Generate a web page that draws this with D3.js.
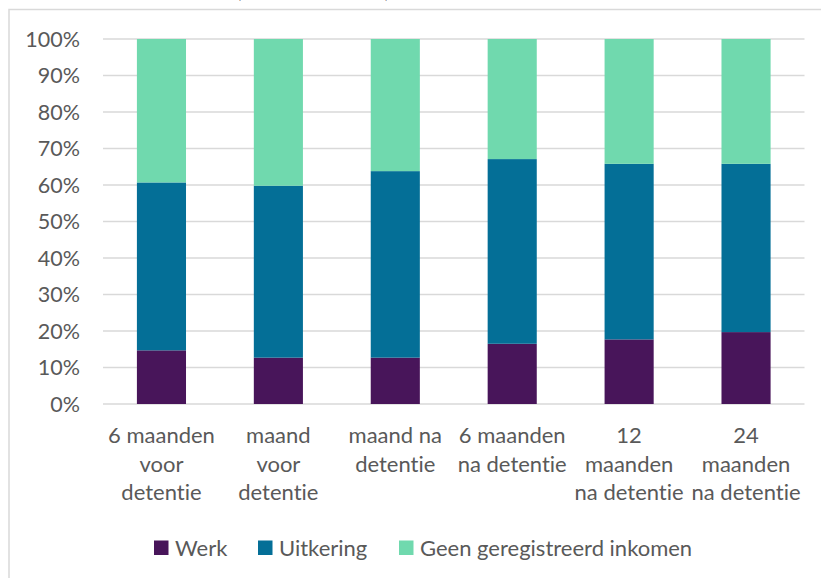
<!DOCTYPE html>
<html>
<head>
<meta charset="utf-8">
<script src="https://cdn.jsdelivr.net/npm/d3@7"></script>
<style>
  body { margin: 0; background: #fff; }
  svg text { font-family: Lato, "Open Sans", sans-serif; fill: #595959; font-variant-ligatures: none; }
</style>
</head>
<body>
<svg id="chart" width="821" height="578"></svg>
<script>
// periods and stacked shares (percent)
var periods = ["6 maanden voor detentie", "maand voor detentie", "maand na detentie",
               "6 maanden na detentie", "12 maanden na detentie", "24 maanden na detentie"];
var periodLines = [
  ["6 maanden", "voor", "detentie"],
  ["maand", "voor", "detentie"],
  ["maand na", "detentie"],
  ["6 maanden", "na detentie"],
  ["12", "maanden", "na detentie"],
  ["24", "maanden", "na detentie"]
];
var werk      = [14.7, 12.7, 12.7, 16.5, 17.7, 19.7];
var uitkering = [46.0, 47.1, 51.1, 50.6, 48.1, 46.1];
var geen      = [39.3, 40.2, 36.2, 32.9, 34.2, 34.2];
var seriesNames = ["Werk", "Uitkering", "Geen geregistreerd inkomen"];
var colors = ["#48155a", "#046f97", "#70d9ae"];
var yTicks = [0, 10, 20, 30, 40, 50, 60, 70, 80, 90, 100];

var svg = d3.select("#chart");

// outer frame (right and bottom edges fall outside the picture)
svg.append("rect").attr("x", 9).attr("y", 9.5).attr("width", 900).attr("height", 700)
	.attr("fill", "none").attr("stroke", "#d9d9d9").attr("stroke-width", 1.5);

// cut-off title, only the parenthesis tails show
svg.append("text").attr("x", 236).attr("y", -3).style("font-weight", "bold")
	.style("font-size", "22px").style("fill", "#000").text("(");
svg.append("text").attr("x", 384).attr("y", -3).style("font-weight", "bold")
	.style("font-size", "22px").style("fill", "#000").text(")");

var x = d3.scaleBand().domain(periods).range([103, 804.5])
	.paddingInner(0.58).paddingOuter(0.29);
var y = d3.scaleLinear().domain([0, 100]).range([404, 39]);

// gridlines
svg.append("g").selectAll("line").data(yTicks).enter().append("line")
	.attr("x1", 103).attr("x2", 804.5)
	.attr("y1", function(d){ return y(d); }).attr("y2", function(d){ return y(d); })
	.attr("stroke", "#d9d9d9").attr("stroke-width", 1.5);

// y labels
svg.append("g").selectAll("text").data(yTicks).enter().append("text")
	.attr("x", 80).attr("y", function(d){ return y(d); })
	.attr("dy", "0.35em").attr("text-anchor", "end")
	.style("font-size", "21.5px")
	.text(function(d){ return d + "%"; });

// stacks
var table = periods.map(function(p, i){
	return { period: p, Werk: werk[i], Uitkering: uitkering[i], "Geen geregistreerd inkomen": geen[i] };
});
var stacked = d3.stack().keys(seriesNames)(table);

svg.append("g").selectAll("g").data(stacked).enter().append("g")
	.attr("fill", function(d, i){ return colors[i]; })
	.selectAll("rect").data(function(d){ return d; }).enter().append("rect")
	.attr("x", function(d){ return x(d.data.period); })
	.attr("width", x.bandwidth())
	.attr("y", function(d){ return y(d[1]); })
	.attr("height", function(d){ return y(d[0]) - y(d[1]); });

// x labels, wrapped
var xl = svg.append("g").selectAll("text").data(periods).enter().append("text")
	.attr("text-anchor", "middle").style("font-size", "22px")
	.attr("transform", function(d){ return "translate(" + (x(d) + x.bandwidth() / 2) + ",443)"; });
xl.selectAll("tspan").data(function(d, i){ return periodLines[i]; }).enter().append("tspan")
	.attr("x", 0).attr("y", function(d, j){ return j * 28.5; })
	.text(function(d){ return d; });

// legend
var legendX = [154, 258, 399];
var lg = svg.append("g").selectAll("g").data(seriesNames).enter().append("g")
	.attr("transform", function(d, i){ return "translate(" + legendX[i] + ",540.5)"; });
lg.append("rect").attr("width", 14.5).attr("height", 14.5)
	.attr("fill", function(d, i){ return colors[i]; });
lg.append("text").attr("x", 21).attr("y", 7.5).attr("dy", "0.35em")
	.style("font-size", "22px").text(function(d){ return d; });
</script>
</body>
</html>
